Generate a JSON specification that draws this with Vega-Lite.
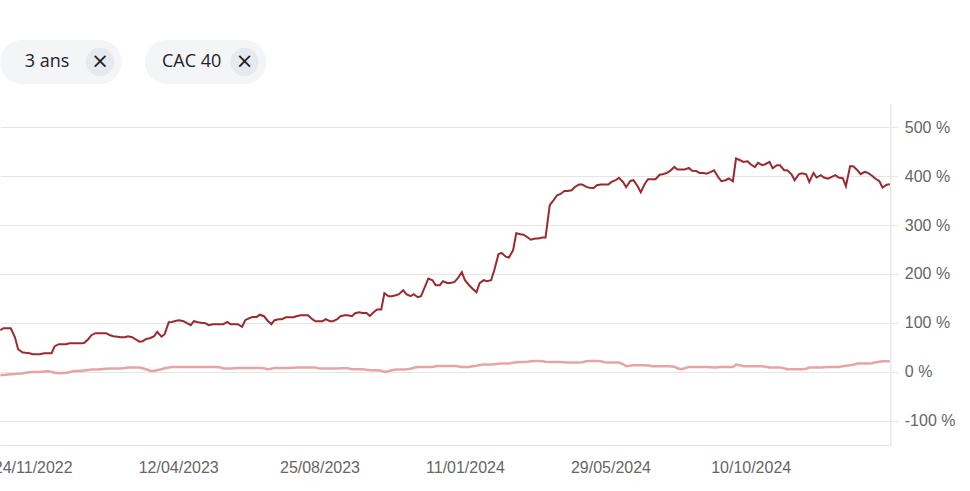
{
"$schema": "https://vega.github.io/schema/vega-lite/v6.json",
"background": "#ffffff",
"padding": {"left": -7.7, "top": 40, "right": 0, "bottom": 0},
"spacing": 19,
"config": {"view": {"stroke": null}, "font": "Liberation Sans"},
"vconcat": [
{
"width": 266, "height": 44,
"data": {"values": [{"label": "3 ans"}, {"label": "CAC 40"}]},
"encoding": {"x": {"field": "label", "type": "nominal", "sort": null, "axis": null, "scale": {"paddingInner": 0.16, "paddingOuter": 0}}},
"layer": [
{"mark": {"type": "rect", "cornerRadius": 22, "fill": "#f4f5f7"}},
{"mark": {"type": "text", "font": "Open Sans", "fontSize": 18, "color": "#1d2129", "dx": -14, "baseline": "middle"}, "encoding": {"text": {"field": "label"}}},
{"mark": {"type": "point", "shape": "circle", "size": 800, "filled": true, "color": "#e8e9ee", "opacity": 1, "xOffset": 39}},
{"mark": {"type": "text", "text": "×", "font": "DejaVu Sans", "fontSize": 21, "color": "#1d2129", "xOffset": 39, "baseline": "middle"}}
]
},
{
"width": 890, "height": 342,
"data": {"values": [
{"d":"2022-10-24","t":84.9,"c":-7.2},{"d":"2022-10-27","t":89.0,"c":-6.5},{"d":"2022-10-31","t":89.0,"c":-5.7},{"d":"2022-11-03","t":89.0,"c":-5.1},
{"d":"2022-11-07","t":70.6,"c":-4.7},{"d":"2022-11-10","t":46.1,"c":-4.1},{"d":"2022-11-14","t":39.9,"c":-3.5},{"d":"2022-11-17","t":38.9,"c":-2.0},
{"d":"2022-11-21","t":37.9,"c":-1.0},{"d":"2022-11-24","t":35.8,"c":-0.4},{"d":"2022-11-28","t":35.8,"c":-0.4},{"d":"2022-12-01","t":35.8,"c":-0.4},
{"d":"2022-12-05","t":37.9,"c":0.4},{"d":"2022-12-08","t":37.9,"c":1.0},{"d":"2022-12-12","t":37.9,"c":0},{"d":"2022-12-15","t":52.2,"c":-2.0},
{"d":"2022-12-19","t":56.3,"c":-3.1},{"d":"2022-12-22","t":56.3,"c":-2.5},{"d":"2022-12-26","t":56.3,"c":-2.5},{"d":"2022-12-29","t":58.3,"c":-1.0},
{"d":"2023-01-02","t":58.3,"c":1.6},{"d":"2023-01-05","t":58.3,"c":1.6},{"d":"2023-01-09","t":58.3,"c":1.6},{"d":"2023-01-12","t":58.9,"c":2.5},
{"d":"2023-01-16","t":66.5,"c":3.7},{"d":"2023-01-19","t":74.7,"c":4.5},{"d":"2023-01-23","t":78.8,"c":4.5},{"d":"2023-01-26","t":78.8,"c":4.5},
{"d":"2023-01-30","t":78.8,"c":5.5},{"d":"2023-02-02","t":78.8,"c":6.1},{"d":"2023-02-06","t":74.7,"c":6.5},{"d":"2023-02-09","t":72.7,"c":6.5},
{"d":"2023-02-13","t":71.6,"c":6.5},{"d":"2023-02-16","t":70.6,"c":6.5},{"d":"2023-02-20","t":70.6,"c":7.6},{"d":"2023-02-23","t":72.7,"c":8.6},
{"d":"2023-02-27","t":70.6,"c":8.6},{"d":"2023-03-02","t":66.5,"c":8.6},{"d":"2023-03-06","t":61.4,"c":8.6},{"d":"2023-03-09","t":62.4,"c":7.2},
{"d":"2023-03-13","t":67.5,"c":4.5},{"d":"2023-03-16","t":68.6,"c":2.0},{"d":"2023-03-20","t":72.7,"c":1.6},{"d":"2023-03-23","t":81.5,"c":3.1},
{"d":"2023-03-27","t":71.6,"c":5.1},{"d":"2023-03-30","t":76.8,"c":7.2},{"d":"2023-04-03","t":101.3,"c":8.6},{"d":"2023-04-06","t":101.9,"c":9.6},
{"d":"2023-04-10","t":104.4,"c":9.8},{"d":"2023-04-13","t":105.4,"c":9.8},{"d":"2023-04-17","t":103.4,"c":9.8},{"d":"2023-04-20","t":99.9,"c":9.8},
{"d":"2023-04-24","t":95.2,"c":9.8},{"d":"2023-04-27","t":103.4,"c":9.8},{"d":"2023-05-01","t":101.3,"c":9.8},{"d":"2023-05-04","t":100.3,"c":9.8},
{"d":"2023-05-08","t":99.3,"c":9.8},{"d":"2023-05-11","t":95.2,"c":9.8},{"d":"2023-05-15","t":97.2,"c":9.8},{"d":"2023-05-18","t":97.2,"c":9.8},
{"d":"2023-05-22","t":97.2,"c":9.2},{"d":"2023-05-25","t":97.2,"c":6.5},{"d":"2023-05-29","t":101.9,"c":6.5},{"d":"2023-06-01","t":97.2,"c":6.5},
{"d":"2023-06-05","t":97.2,"c":7.2},{"d":"2023-06-08","t":97.2,"c":7.6},{"d":"2023-06-12","t":91.7,"c":7.8},{"d":"2023-06-15","t":105.4,"c":7.8},
{"d":"2023-06-19","t":109.5,"c":7.8},{"d":"2023-06-22","t":112.2,"c":7.8},{"d":"2023-06-26","t":112.2,"c":7.8},{"d":"2023-06-29","t":116.7,"c":7.8},
{"d":"2023-07-03","t":113.6,"c":7.2},{"d":"2023-07-06","t":105.4,"c":5.1},{"d":"2023-07-10","t":97.2,"c":6.1},{"d":"2023-07-13","t":105.4,"c":7.8},
{"d":"2023-07-17","t":107.5,"c":7.8},{"d":"2023-07-20","t":107.5,"c":7.8},{"d":"2023-07-24","t":111.5,"c":7.8},{"d":"2023-07-27","t":111.5,"c":7.8},
{"d":"2023-07-31","t":111.5,"c":8.2},{"d":"2023-08-03","t":113.6,"c":8.6},{"d":"2023-08-07","t":115.6,"c":8.6},{"d":"2023-08-10","t":115.6,"c":8.6},
{"d":"2023-08-14","t":115.6,"c":8.6},{"d":"2023-08-17","t":109.5,"c":8.6},{"d":"2023-08-21","t":103.4,"c":8.6},{"d":"2023-08-24","t":103.4,"c":7.2},
{"d":"2023-08-28","t":103.4,"c":6.5},{"d":"2023-08-31","t":107.5,"c":6.5},{"d":"2023-09-04","t":103.4,"c":6.5},{"d":"2023-09-07","t":103.4,"c":6.5},
{"d":"2023-09-11","t":107.5,"c":6.5},{"d":"2023-09-14","t":113.6,"c":7.2},{"d":"2023-09-18","t":115.6,"c":7.2},{"d":"2023-09-21","t":115.6,"c":7.2},
{"d":"2023-09-25","t":113.6,"c":5.1},{"d":"2023-09-28","t":119.7,"c":5.1},{"d":"2023-10-02","t":121.8,"c":5.1},{"d":"2023-10-05","t":120.3,"c":5.1},
{"d":"2023-10-09","t":120.3,"c":4.1},{"d":"2023-10-12","t":114.2,"c":3.1},{"d":"2023-10-16","t":122.4,"c":3.1},{"d":"2023-10-19","t":127.3,"c":3.1},
{"d":"2023-10-23","t":127.3,"c":2.0},{"d":"2023-10-26","t":160.7,"c":0},{"d":"2023-10-30","t":154.5,"c":1.0},{"d":"2023-11-02","t":154.5,"c":3.1},
{"d":"2023-11-06","t":156.6,"c":4.5},{"d":"2023-11-09","t":158.6,"c":4.5},{"d":"2023-11-13","t":166.8,"c":4.5},{"d":"2023-11-16","t":158.6,"c":5.1},
{"d":"2023-11-20","t":154.5,"c":6.1},{"d":"2023-11-23","t":158.6,"c":8.2},{"d":"2023-11-27","t":152.5,"c":9.8},{"d":"2023-11-30","t":154.5,"c":9.8},
{"d":"2023-12-04","t":175.0,"c":9.8},{"d":"2023-12-07","t":190.8,"c":9.8},{"d":"2023-12-11","t":187.3,"c":9.8},{"d":"2023-12-14","t":177.0,"c":11.3},
{"d":"2023-12-18","t":177.0,"c":11.9},{"d":"2023-12-21","t":185.2,"c":11.9},{"d":"2023-12-25","t":181.7,"c":11.9},{"d":"2023-12-28","t":181.7,"c":11.9},
{"d":"2024-01-01","t":183.8,"c":11.9},{"d":"2024-01-04","t":190.8,"c":11.3},{"d":"2024-01-08","t":203.6,"c":9.8},{"d":"2024-01-11","t":187.3,"c":9.8},
{"d":"2024-01-15","t":177.0,"c":9.8},{"d":"2024-01-18","t":170.3,"c":11.3},{"d":"2024-01-22","t":162.7,"c":12.3},{"d":"2024-01-25","t":181.1,"c":13.9},
{"d":"2024-01-29","t":187.3,"c":14.7},{"d":"2024-02-01","t":185.2,"c":14.7},{"d":"2024-02-05","t":187.3,"c":14.7},{"d":"2024-02-08","t":207.7,"c":15.4},
{"d":"2024-02-12","t":240.5,"c":16.4},{"d":"2024-02-15","t":243.1,"c":16.8},{"d":"2024-02-19","t":235.4,"c":16.8},{"d":"2024-02-22","t":233.7,"c":16.8},
{"d":"2024-02-26","t":248.7,"c":18.4},{"d":"2024-02-29","t":283.5,"c":19.4},{"d":"2024-03-04","t":281.4,"c":20.1},{"d":"2024-03-07","t":280.4,"c":20.1},
{"d":"2024-03-11","t":274.7,"c":20.5},{"d":"2024-03-14","t":270.2,"c":21.5},{"d":"2024-03-18","t":272.6,"c":22.1},{"d":"2024-03-21","t":272.6,"c":22.1},
{"d":"2024-03-25","t":274.7,"c":21.5},{"d":"2024-03-28","t":274.7,"c":20.5},{"d":"2024-04-01","t":340.8,"c":20.1},{"d":"2024-04-04","t":349.0,"c":20.1},
{"d":"2024-04-08","t":361.2,"c":20.1},{"d":"2024-04-11","t":363.3,"c":20.1},{"d":"2024-04-15","t":370.0,"c":19.4},{"d":"2024-04-18","t":370.0,"c":18.8},
{"d":"2024-04-22","t":371.5,"c":18.8},{"d":"2024-04-25","t":378.2,"c":18.8},{"d":"2024-04-29","t":383.1,"c":18.8},{"d":"2024-05-02","t":383.1,"c":19.4},
{"d":"2024-05-06","t":378.2,"c":21.5},{"d":"2024-05-09","t":376.6,"c":22.1},{"d":"2024-05-13","t":376.2,"c":22.1},{"d":"2024-05-16","t":381.7,"c":22.1},
{"d":"2024-05-20","t":383.1,"c":21.5},{"d":"2024-05-23","t":383.1,"c":19.4},{"d":"2024-05-27","t":383.1,"c":18.8},{"d":"2024-05-30","t":388.5,"c":18.8},
{"d":"2024-06-03","t":391.9,"c":18.8},{"d":"2024-06-06","t":396.7,"c":18.8},{"d":"2024-06-10","t":388.5,"c":15.4},{"d":"2024-06-13","t":377.6,"c":11.3},
{"d":"2024-06-17","t":390.5,"c":12.3},{"d":"2024-06-20","t":391.9,"c":13.3},{"d":"2024-06-24","t":379.7,"c":13.3},{"d":"2024-06-27","t":367.4,"c":13.3},
{"d":"2024-07-01","t":385.2,"c":13.3},{"d":"2024-07-04","t":394.0,"c":12.7},{"d":"2024-07-08","t":394.0,"c":11.3},{"d":"2024-07-11","t":394.0,"c":11.3},
{"d":"2024-07-15","t":403.2,"c":11.3},{"d":"2024-07-18","t":404.2,"c":11.3},{"d":"2024-07-22","t":406.9,"c":11.3},{"d":"2024-07-25","t":411.0,"c":11.3},
{"d":"2024-07-29","t":419.2,"c":10.2},{"d":"2024-08-01","t":413.8,"c":7.2},{"d":"2024-08-05","t":413.8,"c":5.1},{"d":"2024-08-08","t":413.8,"c":7.2},
{"d":"2024-08-12","t":417.1,"c":9.8},{"d":"2024-08-15","t":411.4,"c":9.8},{"d":"2024-08-19","t":411.0,"c":9.8},{"d":"2024-08-22","t":406.9,"c":9.8},
{"d":"2024-08-26","t":406.9,"c":9.8},{"d":"2024-08-29","t":405.2,"c":9.8},{"d":"2024-09-02","t":408.9,"c":9.2},{"d":"2024-09-05","t":412.4,"c":8.6},
{"d":"2024-09-09","t":398.1,"c":9.2},{"d":"2024-09-12","t":389.9,"c":9.8},{"d":"2024-09-16","t":391.9,"c":9.8},{"d":"2024-09-19","t":395.4,"c":9.8},
{"d":"2024-09-23","t":389.9,"c":9.8},{"d":"2024-09-26","t":436.4,"c":14.7},{"d":"2024-09-30","t":432.9,"c":13.3},{"d":"2024-10-03","t":429.4,"c":11.3},
{"d":"2024-10-07","t":430.8,"c":11.3},{"d":"2024-10-10","t":424.7,"c":11.3},{"d":"2024-10-14","t":418.6,"c":11.3},{"d":"2024-10-17","t":427.4,"c":11.3},
{"d":"2024-10-21","t":422.6,"c":11.3},{"d":"2024-10-24","t":424.7,"c":10.2},{"d":"2024-10-28","t":429.4,"c":8.6},{"d":"2024-10-31","t":416.5,"c":8.6},
{"d":"2024-11-04","t":422.6,"c":8.6},{"d":"2024-11-07","t":422.6,"c":8.6},{"d":"2024-11-11","t":412.4,"c":7.2},{"d":"2024-11-14","t":412.4,"c":5.1},
{"d":"2024-11-18","t":404.2,"c":5.1},{"d":"2024-11-21","t":391.9,"c":5.1},{"d":"2024-11-25","t":404.2,"c":5.1},{"d":"2024-11-28","t":406.3,"c":5.1},
{"d":"2024-12-02","t":404.2,"c":6.1},{"d":"2024-12-05","t":388.5,"c":8.6},{"d":"2024-12-09","t":406.9,"c":8.6},{"d":"2024-12-12","t":397.5,"c":8.6},
{"d":"2024-12-16","t":402.2,"c":8.6},{"d":"2024-12-19","t":397.5,"c":9.2},{"d":"2024-12-23","t":395.0,"c":9.8},{"d":"2024-12-26","t":398.1,"c":9.8},
{"d":"2024-12-30","t":402.2,"c":9.8},{"d":"2025-01-02","t":397.5,"c":9.8},{"d":"2025-01-06","t":396.0,"c":11.3},{"d":"2025-01-09","t":379.7,"c":12.3},
{"d":"2025-01-13","t":420.6,"c":13.3},{"d":"2025-01-16","t":420.6,"c":14.3},{"d":"2025-01-20","t":412.4,"c":16.8},{"d":"2025-01-23","t":404.2,"c":16.8},
{"d":"2025-01-27","t":408.9,"c":16.8},{"d":"2025-01-30","t":406.9,"c":16.8},{"d":"2025-02-03","t":401.2,"c":17.4},{"d":"2025-02-06","t":395.4,"c":19.4},
{"d":"2025-02-10","t":389.9,"c":20.5},{"d":"2025-02-13","t":377.0,"c":21.5},{"d":"2025-02-17","t":382.7,"c":21.5},{"d":"2025-02-20","t":383.7,"c":21.5}
]},
"encoding": {
"x": {"field": "d", "type": "temporal",
"scale": {"type": "utc", "nice": false, "domain": [{"year": 2022, "month": 10, "date": 24, "utc": true}, {"year": 2025, "month": 2, "date": 20, "hours": 10, "utc": true}]},
"axis": {"title": null, "format": "%d/%m/%Y", "grid": false, "ticks": false, "domain": true, "domainColor": "#e3e3e3", "domainWidth": 1.2,
"labelFlush": false, "labelOverlap": false, "labelPadding": 15, "labelColor": "#666666", "labelFontSize": 16, "labelFont": "Liberation Sans",
"values": [{"year": 2022, "month": 11, "date": 24, "utc": true}, {"year": 2023, "month": 4, "date": 12, "utc": true}, {"year": 2023, "month": 8, "date": 25, "utc": true}, {"year": 2024, "month": 1, "date": 11, "utc": true}, {"year": 2024, "month": 5, "date": 29, "utc": true}, {"year": 2024, "month": 10, "date": 10, "utc": true}]}}
},
"layer": [
{"mark": {"type": "line", "color": "#e39b9b", "strokeWidth": 2.5, "opacity": 0.9},
"encoding": {"y": {"field": "c", "type": "quantitative",
"scale": {"domain": [-150, 550], "nice": false, "zero": false},
"axis": {"orient": "right", "title": null, "values": [-100, 0, 100, 200, 300, 400, 500], "labelExpr": "datum.value + ' %'",
"grid": true, "gridColor": "#e6e6e6", "gridWidth": 1.2, "domain": true, "domainColor": "#e3e3e3", "domainWidth": 1.2,
"ticks": true, "tickColor": "#e6e6e6", "tickSize": 8, "tickWidth": 1.2, "labelPadding": 6, "labelColor": "#666666", "labelFontSize": 16, "labelFont": "Liberation Sans"}}}},
{"mark": {"type": "line", "color": "#9b2a2e", "strokeWidth": 2},
"encoding": {"y": {"field": "t", "type": "quantitative",
"scale": {"domain": [-150, 550], "nice": false, "zero": false},
"axis": {"orient": "right", "title": null, "values": [-100, 0, 100, 200, 300, 400, 500], "labelExpr": "datum.value + ' %'",
"grid": true, "gridColor": "#e6e6e6", "gridWidth": 1.2, "domain": true, "domainColor": "#e3e3e3", "domainWidth": 1.2,
"ticks": true, "tickColor": "#e6e6e6", "tickSize": 8, "tickWidth": 1.2, "labelPadding": 6, "labelColor": "#666666", "labelFontSize": 16, "labelFont": "Liberation Sans"}}}}
]
}
]
}
